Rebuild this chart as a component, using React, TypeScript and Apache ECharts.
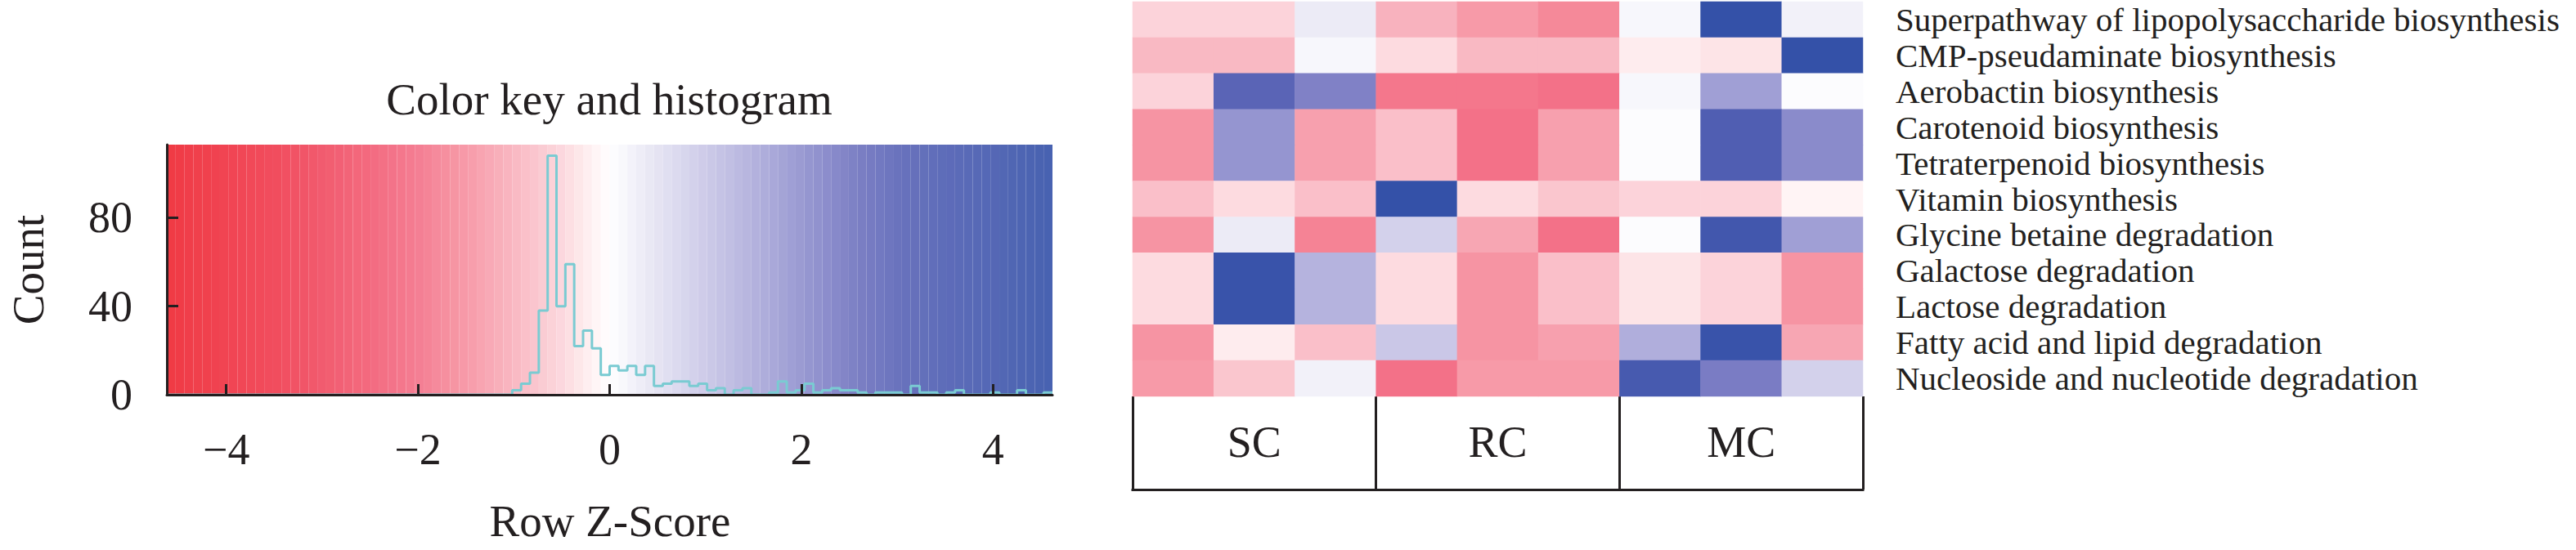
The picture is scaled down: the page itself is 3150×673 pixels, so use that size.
import React, { useEffect, useRef } from 'react';
import * as echarts from 'echarts';

// ---------------- data ----------------
const SAMPLES = ['SC1', 'SC2', 'SC3', 'RC1', 'RC2', 'RC3', 'MC1', 'MC2', 'MC3'];
const GROUPS = ['SC', 'RC', 'MC'];
const PATHWAYS = [
  'Superpathway of lipopolysaccharide biosynthesis',
  'CMP-pseudaminate biosynthesis',
  'Aerobactin biosynthesis',
  'Carotenoid biosynthesis',
  'Tetraterpenoid biosynthesis',
  'Vitamin biosynthesis',
  'Glycine betaine degradation',
  'Galactose degradation',
  'Lactose degradation',
  'Fatty acid and lipid degradation',
  'Nucleoside and nucleotide degradation',
];
// row z-scores, one row per pathway, columns in SAMPLES order
const Z_SCORES = [
  [-0.5, -0.5, 0.35, -1.0, -1.3, -1.6, 0.12, 4.6, 0.25],
  [-0.9, -0.9, 0.1, -0.4, -0.9, -0.9, -0.2, -0.3, 4.6],
  [-0.55, 3.0, 2.3, -1.85, -1.85, -2.0, 0.1, 1.7, 0.0],
  [-1.45, 1.9, -1.25, -0.8, -2.0, -1.25, 0.0, 3.4, 2.1],
  [-1.45, 1.9, -1.25, -0.8, -2.0, -1.25, 0.0, 3.4, 2.1],
  [-0.8, -0.45, -0.8, 4.6, -0.4, -0.7, -0.55, -0.5, -0.1],
  [-1.4, 0.35, -1.7, 0.75, -1.15, -2.0, 0.0, 4.0, 1.75],
  [-0.4, 4.4, 1.35, -0.4, -1.45, -0.8, -0.3, -0.5, -1.45],
  [-0.4, 4.4, 1.35, -0.4, -1.45, -0.8, -0.3, -0.5, -1.45],
  [-1.4, -0.2, -0.8, 0.95, -1.45, -1.25, 1.4, 4.4, -1.15],
  [-1.3, -0.7, 0.2, -2.0, -1.3, -1.3, 3.7, 2.4, 0.75],
];

// colour key breaks
const BREAK_MIN = -4.62;
const BREAK_MAX = 4.62;
const N_BINS = 100;
// histogram counts, starting at bin HIST_FIRST_BIN (bins before it are empty)
const HIST_FIRST_BIN = 39;
const HIST_COUNTS = [
  2, 5, 10, 38, 108, 40, 59, 22, 29, 21, 9,
  13, 11, 13, 9, 13, 4, 5, 6, 6, 4, 5, 2, 3, 0, 2, 3, 0, 0, 1, 6,
  1, 2, 5, 1, 2, 3, 2, 2, 1, 0, 1, 1, 1, 0, 4, 1, 1, 0, 1, 2,
  0, 0, 0, 1, 0, 0, 2, 0, 0, 1,
];
const COUNT_MAX = 113;
const COUNT_TICKS = [0, 40, 80];
const Z_TICKS = [-4, -2, 0, 2, 4];

// palette stops (z -> colour)
const PALETTE_Z = [-4.62, -3.5, -2.5, -2.0, -1.5, -1.0, -0.5, -0.09, 0, 0.09, 0.5, 1.0, 1.5, 2.0, 2.5, 3.0, 3.5, 4.0, 4.62];
const PALETTE_COLORS = [
  '#EE2530', '#EF394C', '#F25A72', '#F37087', '#F6909F', '#F8B0BC', '#FCD4DA', '#FFF8F9', '#FFFFFF',
  '#FAFAFD', '#E2E0F1', '#C8C5E6', '#ACAADA', '#8F8FCD', '#7275C0', '#5A64B6', '#4C5CB1', '#4257AD', '#3350A8',
];

const INK = '#231F20';
const FONT = "'Liberation Serif', 'Times New Roman', serif";
const HIST_COLOR = '#7ACBD2';

function hexToRgb(h: string) {
  const n = parseInt(h.slice(1), 16);
  return [(n >> 16) & 255, (n >> 8) & 255, n & 255];
}
function paletteColor(z: number) {
  if (z <= PALETTE_Z[0]) return PALETTE_COLORS[0];
  for (let i = 1; i < PALETTE_Z.length; i++) {
    if (z <= PALETTE_Z[i]) {
      const t = (z - PALETTE_Z[i - 1]) / (PALETTE_Z[i] - PALETTE_Z[i - 1]);
      const a = hexToRgb(PALETTE_COLORS[i - 1]);
      const b = hexToRgb(PALETTE_COLORS[i]);
      const c = a.map((v, k) => Math.round(v + (b[k] - v) * t));
      return `rgb(${c[0]},${c[1]},${c[2]})`;
    }
  }
  return PALETTE_COLORS[PALETTE_COLORS.length - 1];
}

export default function App() {
  const ref = useRef<HTMLDivElement>(null);
  useEffect(() => {
    if (!ref.current) return;
    const chart = echarts.init(ref.current, null, { renderer: 'svg', width: 3150, height: 673 });

    const step = (BREAK_MAX - BREAK_MIN) / N_BINS;
    const breaks: number[] = [];
    for (let i = 0; i <= N_BINS; i++) breaks.push(BREAK_MIN + i * step);
    const counts: number[] = breaks.slice(0, N_BINS).map((_, i) => {
      const j = i - HIST_FIRST_BIN;
      return j >= 0 && j < HIST_COUNTS.length ? HIST_COUNTS[j] : 0;
    });

    const pieces = breaks.slice(0, N_BINS).map((b, i) => {
      const p: any = { gte: b, color: paletteColor((b + breaks[i + 1]) / 2) };
      if (i === N_BINS - 1) p.lte = breaks[i + 1];
      else p.lt = breaks[i + 1];
      return p;
    });

    const keyData = breaks.slice(0, N_BINS).map((b, i) => [b, breaks[i + 1], (b + breaks[i + 1]) / 2]);
    const histData = breaks.map((b, i) => [b, counts[Math.min(i, N_BINS - 1)]]);

    const heatData: number[][] = [];
    Z_SCORES.forEach((row, r) => row.forEach((z, c) => heatData.push([c, r, z])));

    const labelStyle = { color: INK, fontFamily: FONT };

    chart.setOption({
      animation: false,
      backgroundColor: '#ffffff',
      grid: [
        { left: 204, top: 177, width: 1083, height: 306 },
        { left: 1385, top: 2, width: 893, height: 483 },
      ],
      visualMap: [
        { type: 'piecewise', show: false, dimension: 2, seriesIndex: [0, 2], pieces },
      ],
      xAxis: [
        {
          gridIndex: 0, type: 'value', min: BREAK_MIN, max: BREAK_MAX, z: 10,
          axisLine: { show: true, onZero: false, lineStyle: { color: INK, width: 3 } },
          axisTick: { show: true, inside: true, length: 13, customValues: Z_TICKS, lineStyle: { color: INK, width: 3 } },
          axisLabel: {
            ...labelStyle, fontSize: 54, margin: 67, verticalAlign: 'middle', customValues: Z_TICKS,
            formatter: (v: number) => String(v).replace('-', '\u2212'),
          },
          splitLine: { show: false },
        },
        { gridIndex: 1, type: 'category', data: SAMPLES, show: false },
        {
          gridIndex: 1, type: 'category', data: GROUPS, position: 'bottom',
          axisLine: { show: false, onZero: false },
          axisTick: { show: true, length: 114, lineStyle: { color: INK, width: 3 } },
          axisLabel: { ...labelStyle, fontSize: 54, margin: 56, verticalAlign: 'middle' },
          splitLine: { show: false },
        },
        {
          gridIndex: 1, type: 'category', data: GROUPS, position: 'bottom', offset: 114,
          axisLine: { show: true, onZero: false, lineStyle: { color: INK, width: 3, cap: 'square' } },
          axisTick: { show: false }, axisLabel: { show: false }, splitLine: { show: false },
        },
      ],
      yAxis: [
        {
          gridIndex: 0, type: 'value', min: 0, max: COUNT_MAX, z: 10,
          axisLine: { show: true, onZero: false, lineStyle: { color: INK, width: 3 } },
          axisTick: { show: true, inside: true, length: 14, customValues: COUNT_TICKS, lineStyle: { color: INK, width: 3 } },
          axisLabel: { ...labelStyle, fontSize: 54, margin: 42, customValues: COUNT_TICKS },
          splitLine: { show: false },
        },
        {
          gridIndex: 1, type: 'category', data: PATHWAYS, inverse: true, position: 'right',
          axisLine: { show: false, onZero: false }, axisTick: { show: false },
          axisLabel: { ...labelStyle, fontSize: 41, margin: 40, interval: 0 },
          splitLine: { show: false },
        },
      ],
      series: [
        {
          type: 'custom', xAxisIndex: 0, yAxisIndex: 0, data: keyData, encode: { x: [0, 1] }, z: 1, silent: true,
          renderItem: (params: any, api: any) => {
            const p0 = api.coord([api.value(0), COUNT_MAX]);
            const p1 = api.coord([api.value(1), 0]);
            return {
              type: 'rect',
              shape: { x: p0[0], y: p0[1], width: p1[0] - p0[0], height: p1[1] - p0[1] },
              style: { fill: api.visual('color'), opacity: 0.9 },
            };
          },
        },
        {
          type: 'line', xAxisIndex: 0, yAxisIndex: 0, data: histData, step: 'end', symbol: 'none', z: 2, silent: true,
          lineStyle: { color: HIST_COLOR, width: 3 },
        },
        {
          type: 'heatmap', xAxisIndex: 1, yAxisIndex: 1, data: heatData, silent: true,
          itemStyle: { borderWidth: 0 },
        },
      ],
      graphic: [
        {
          type: 'text', x: 745, y: 121,
          style: { text: 'Color key and histogram', fontSize: 55, fontFamily: FONT, fill: INK, textAlign: 'center', textVerticalAlign: 'middle' },
        },
        {
          type: 'text', x: 746, y: 637,
          style: { text: 'Row Z-Score', fontSize: 55, fontFamily: FONT, fill: INK, textAlign: 'center', textVerticalAlign: 'middle' },
        },
        {
          type: 'text', x: 34, y: 330, rotation: Math.PI / 2,
          style: { text: 'Count', fontSize: 55, fontFamily: FONT, fill: INK, textAlign: 'center', textVerticalAlign: 'middle' },
        },
      ],
    });
    return () => chart.dispose();
  }, []);
  return (
    <div
      ref={ref}
      style={{ position: 'fixed', left: 0, top: 0, width: 3150, height: 673, background: '#ffffff' }}
    />
  );
}
